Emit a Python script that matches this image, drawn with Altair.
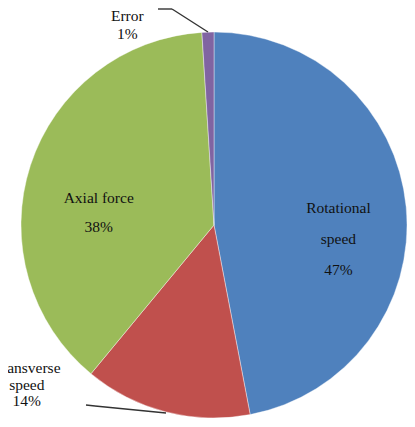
import altair as alt
import pandas as pd

# ---- data ----
categories = ["Rotational speed", "Transverse speed", "Axial force", "Error"]
shares = [47, 14, 38, 1]
slice_colors = ["#4F81BD", "#C0504D", "#9BBB59", "#8064A2"]

df = pd.DataFrame({
    "category": categories,
    "share": shares,
    "rank": list(range(len(categories))),
})

W, H = 399, 411           # whole SVG (autosize none, padding 0)
CX, CY, R = 206, 217, 193  # pie centre / radius in SVG pixels
FONT = "Liberation Serif"
FS = 15.5

base = (
    alt.Chart(df)
    .transform_window(cum="sum(share)", sort=[alt.SortField("rank")], frame=[None, 0])
    .transform_calculate(start="datum.cum - datum.share", mid="datum.cum - datum.share / 2")
)

theta_scale = alt.Scale(domain=[0, 100])

pie = base.mark_arc(radius=R, stroke="white", strokeWidth=0.4).encode(
    x=alt.value(CX),
    y=alt.value(CY),
    theta=alt.Theta("start:Q", scale=theta_scale),
    theta2="cum:Q",
    color=alt.Color("category:N", scale=alt.Scale(domain=categories, range=slice_colors), legend=None),
)


def label_layer(cat, radius, dx, dy, line_height, split_words):
    if split_words:
        expr = "replace(datum.category, ' ', '|') + '|' + datum.share + '%'"
    else:
        expr = "datum.category + '|' + datum.share + '%'"
    return (
        base.transform_calculate(label=expr)
        .transform_filter(alt.datum.category == cat)
        .mark_text(
            radius=radius, dx=dx, dy=dy, lineBreak="|", lineHeight=line_height,
            font=FONT, fontSize=FS, color="#111111", align="center", baseline="middle",
        )
        .encode(
            x=alt.value(CX),
            y=alt.value(CY),
            theta=alt.Theta("mid:Q", scale=theta_scale),
            text="label:N",
        )
    )


labels = [
    label_layer("Rotational speed", 125, 0, -5, 31, True),
    label_layer("Axial force", 117, -4, 9, 29, False),
    label_layer("Transverse speed", 210, -135, -60, 16.5, True),
    label_layer("Error", 213, -80, 4, 18, False),
]


def seg(x1, y1, x2, y2):
    return (
        alt.Chart(df.head(1))
        .mark_rule(color="#333333", strokeWidth=1.4)
        .encode(x=alt.value(x1), y=alt.value(y1), x2=alt.value(x2), y2=alt.value(y2))
    )


leaders = [
    seg(150, 1, 164, 1), seg(164, 1, 200, 24),
    seg(78, 397, 87, 398), seg(87, 398, 158, 405),
]

chart = (
    alt.layer(pie, *labels, *leaders)
    .properties(width=W, height=H, padding=0, autosize=alt.AutoSizeParams(type="none"))
    .configure_view(stroke=None)
)

chart.save("out.html", embed_options={"renderer": "svg", "actions": False})
